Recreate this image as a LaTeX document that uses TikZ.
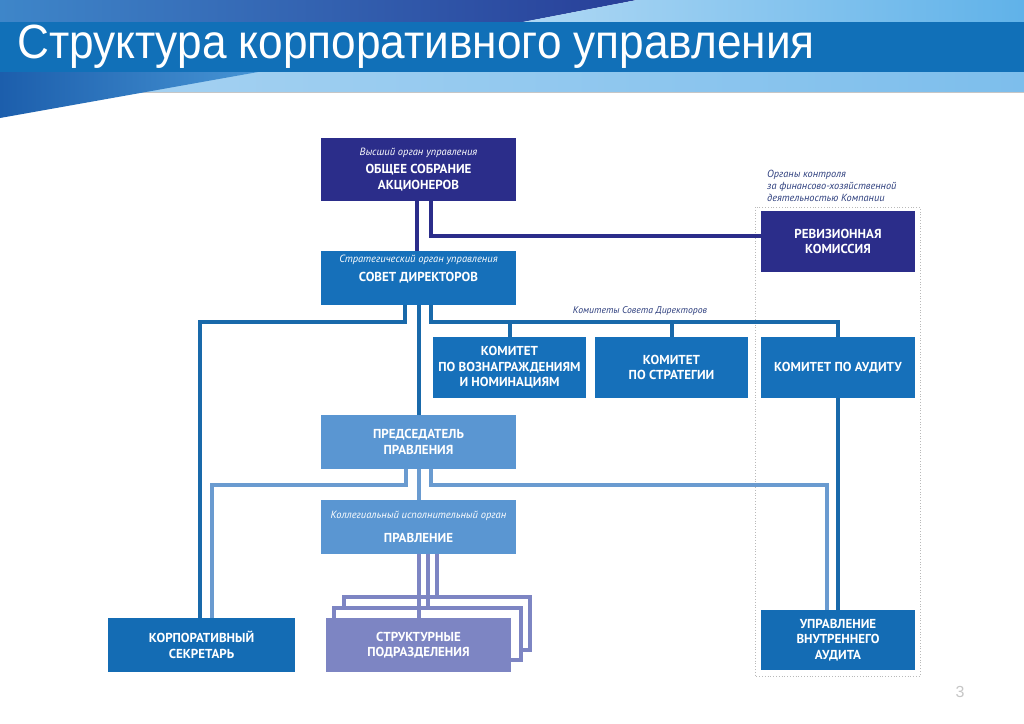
\documentclass[tikz,border=0pt]{standalone}
\usepackage{fontspec}
\setmainfont{PT Sans}
\newfontfamily\titlefont{Liberation Sans}
\usetikzlibrary{positioning}
\definecolor{navybox}{HTML}{2B2D8A}
\definecolor{bluebox}{HTML}{1670BA}
\definecolor{lightbox}{HTML}{5A96D2}
\definecolor{deepbox}{HTML}{146CB4}
\definecolor{lilacbox}{HTML}{7D85C3}
\definecolor{bluewire}{HTML}{1969AA}
\definecolor{lightwire}{HTML}{6A9BD0}
\definecolor{notetext}{HTML}{2E3F7E}
\definecolor{bandblue}{HTML}{1170B8}
\newcommand{\orgit}[1]{{\mdseries\itshape\fontsize{10.5}{12}\selectfont #1}}

\begin{document}
\begin{tikzpicture}[x=1pt, y=-1pt,
            box/.style={fill=#1, text=white, align=center, inner sep=0pt,
                font=\bfseries\fontsize{13}{15.5}\selectfont},
            orgnote/.style={font=\itshape\fontsize{10.5}{12}\selectfont, text=white, inner sep=0pt},
            navywire/.style={draw=navybox, line width=4pt},
            bluelink/.style={draw=bluewire, line width=4pt},
            lightlink/.style={draw=lightwire, line width=4pt},
            lilaclink/.style={draw=lilacbox, line width=4pt},
            stack/.style={draw=lilacbox, line width=4pt, fill=white, inner sep=0pt}]
            \useasboundingbox (0,0) rectangle (1024,723);
            \fill[white] (0,0) rectangle (1024,723);

            \shade[left color={rgb,255:red,62;green,134;blue,201}, right color={rgb,255:red,40;green,62;blue,152}]
                (0,0) -- (637,0) -- (523,22) -- (0,22) -- cycle;
            \shade[left color={rgb,255:red,175;green,216;blue,244}, right color={rgb,255:red,96;green,178;blue,233}]
                (637,0) -- (1024,0) -- (1024,22) -- (523,22) -- cycle;
            \fill[bandblue] (0,22) rectangle (1024,72);
            \shade[left color={rgb,255:red,170;green,212;blue,242}, middle color=white, right color={rgb,255:red,125;green,190;blue,236}]
                (0,72) rectangle (1024,92);
            \draw[gray!45, line width=1pt] (0,92.5) -- (1024,92.5);
            \shade[left color={rgb,255:red,28;green,94;blue,172}, right color={rgb,255:red,70;green,148;blue,212}]
                (0,72) -- (258,72) -- (0,118) -- cycle;
            \node[anchor=west, text=white, inner sep=0pt, font=\titlefont\fontsize{48}{48}\selectfont] (title) at (17,47)
                {\scalebox{0.92}[1]{Структура корпоративного управления}};

            \draw[gray!55, dotted, line width=0.8pt] (755,207) rectangle (920,676);
            \node[text=notetext, font=\itshape\fontsize{10.3}{12}\selectfont, align=left, anchor=west, inner sep=0pt] (ctrl) at (767,186)
                {Органы контроля\\за финансово-хозяйственной\\деятельностью Компании};
            \node[text=notetext, font=\itshape\fontsize{9.7}{11}\selectfont, inner sep=0pt] (komlbl) at (640,311) {Комитеты Совета Директоров};

            \node[box=navybox, minimum width=195pt, minimum height=63pt] (osa) at (418.5,169.5)
                {\orgit{Высший орган управления}\\[3pt]ОБЩЕЕ СОБРАНИЕ\\АКЦИОНЕРОВ};
            \node[box=bluebox, minimum width=195pt, minimum height=54pt,
                label={[orgnote, anchor=north, yshift=-4pt]north:Стратегический орган управления}] (sd) at (418.5,278) {СОВЕТ ДИРЕКТОРОВ};
            \node[box=navybox, minimum width=154pt, minimum height=61pt] (rev) at (838,241.5) {РЕВИЗИОННАЯ\\КОМИССИЯ};
            \node[box=bluebox, minimum width=153pt, minimum height=61pt] (kom1) at (509.5,367.5) {КОМИТЕТ\\ПО ВОЗНАГРАЖДЕНИЯМ\\И НОМИНАЦИЯМ};
            \node[box=bluebox, minimum width=153pt, minimum height=61pt] (kom2) at (671.5,367.5) {КОМИТЕТ\\ПО СТРАТЕГИИ};
            \node[box=bluebox, minimum width=154pt, minimum height=61pt] (kom3) at (838,367.5) {КОМИТЕТ ПО АУДИТУ};
            \node[box=lightbox, minimum width=195pt, minimum height=54pt] (pred) at (418.5,442) {ПРЕДСЕДАТЕЛЬ\\ПРАВЛЕНИЯ};
            \node[box=lightbox, minimum width=195pt, minimum height=54pt] (prav) at (418.5,527)
                {\orgit{Коллегиальный исполнительный орган}\\[9pt]ПРАВЛЕНИЕ};
            \node[box=deepbox, minimum width=187pt, minimum height=54pt] (korp) at (201.5,645) {КОРПОРАТИВНЫЙ\\СЕКРЕТАРЬ};
            \node[stack, minimum width=186pt, minimum height=53pt] (struct3) at (437,623.5) {};
            \node[stack, minimum width=187pt, minimum height=52pt] (struct2) at (427.5,634) {};
            \node[box=lilacbox, minimum width=185pt, minimum height=54pt] (struct) at (418.5,645) {СТРУКТУРНЫЕ\\ПОДРАЗДЕЛЕНИЯ};
            \node[box=deepbox, minimum width=154pt, minimum height=60pt] (vna) at (838,640) {УПРАВЛЕНИЕ\\ВНУТРЕННЕГО\\АУДИТА};
            \coordinate (bus) at (431,322);

            \draw[navywire] ([xshift=-1.5pt]osa.south) -- ([xshift=-1.5pt]sd.north);
            \draw[navywire] ([xshift=12.5pt]osa.south) |- ([yshift=5.5pt]rev.west);
            \draw[bluelink] ([xshift=-13.5pt]sd.south) -- ++(0,17) -| ([xshift=-1.5pt]korp.north);
            \draw[bluelink] (sd.south) -- (pred.north);
            \draw[bluelink] ([xshift=12.5pt]sd.south) |- (bus) -| (kom3.north);
            \draw[bluelink] (kom1.north) -- (kom1.north |- bus);
            \draw[bluelink] (kom2.north) -- (kom2.north |- bus);
            \draw[bluelink] (kom3.south) -- (vna.north);
            \draw[lightlink] ([xshift=-12.5pt]pred.south) -- ++(0,16) -| ([xshift=10.5pt]korp.north);
            \draw[lightlink] (pred.south) -- (prav.north);
            \draw[lightlink] ([xshift=12.5pt]pred.south) -- ++(0,16) -| ([xshift=-11pt]vna.north);
            \draw[lilaclink] (prav.south) -- (struct.north);
            \draw[lilaclink] ([xshift=9pt]prav.south) -- (struct2.north);
            \draw[lilaclink] ([xshift=18.5pt]prav.south) -- (struct3.north);

            \node[text=gray!45, font=\titlefont\fontsize{16}{16}\selectfont] (page) at (960,692) {3};
        \end{tikzpicture}
\end{document}
